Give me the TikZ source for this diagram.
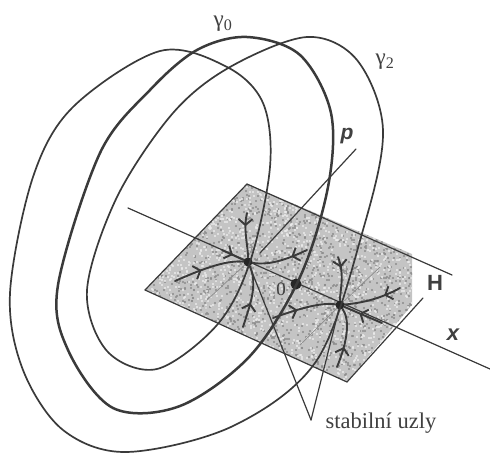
\documentclass[tikz,border=0pt]{standalone}
\usepackage{fontspec}
\setmainfont{Liberation Serif}
\setsansfont{Liberation Sans}
\usepackage{xcolor}
\usetikzlibrary{arrows.meta,decorations.markings}
\definecolor{inkgray}{RGB}{58,58,58}
\definecolor{planegray}{RGB}{196,196,196}
\begin{document}
\begin{tikzpicture}[
  x=1pt,y=-1pt,
  line cap=round,
  curvethin/.style={draw=inkgray,line width=1.7pt},
  curvethick/.style={draw=inkgray,line width=2.5pt},
  axisline/.style={draw=inkgray,line width=1.2pt},
  faint/.style={draw=black!45,line width=0.7pt},
  traj/.style={draw=inkgray,line width=1.9pt},
  barb/.style={postaction={decorate},decoration={markings,mark=at position #1 with {\arrow[line width=1.9pt,inkgray]{Straight Barb[length=6pt,width=14pt]}}}},
  uzel/.style={circle,fill=black!85,inner sep=0pt,minimum size=9pt},
  lbl/.style={inner sep=0pt,text=black!75}
]
\useasboundingbox (0,0) rectangle (490,453);
% shaded plane
\path[fill=planegray] (247,184) -- (412,254) -- (412,305) -- (347,382) -- (145,290) -- cycle;
\begin{scope}
  \clip (247,184) -- (412,254) -- (412,305) -- (347,382) -- (145,290) -- cycle;
  \pgfmathsetseed{17}
  \foreach \i in {1,...,2000}{
    \pgfmathsetmacro{\px}{random(145,412)}
    \pgfmathsetmacro{\py}{random(184,382)}
    \fill[black!45] (\px,\py) circle (1.1);
  }
  \foreach \i in {1,...,1900}{
    \pgfmathsetmacro{\px}{random(145,412)}
    \pgfmathsetmacro{\py}{random(184,382)}
    \fill[black!8] (\px,\py) circle (1.1);
  }
\end{scope}
\coordinate (planetop) at (247,184);
\coordinate (planeleft) at (145,290);
\coordinate (planebot) at (347,382);
\coordinate (hend) at (452,275);
\coordinate (hlow) at (423,298);
\draw[axisline] (planeleft) -- (planetop) -- (hend);
\draw[axisline] (planeleft) -- (planebot) -- (hlow);
% axes
\coordinate (xa) at (128,208);
\coordinate (xb) at (490,369);
\coordinate (pa) at (356,149);
\coordinate (pb) at (260,253);
\draw[axisline] (xa) -- (xb);
\draw[axisline] (pa) -- (pb);
% nodes
\node[uzel] (uzelA) at (248,262) {};
\node[uzel] (uzelB) at (340,305) {};
\node[uzel,minimum size=11pt] (nula) at (296,284) {};
\node[lbl,font=\fontsize{22.5}{22.5}\selectfont] (stabil) at (381,423) {stabilní uzly};
\coordinate (tip) at (311,420);
\draw[axisline] (uzelA) -- (tip);
\draw[axisline] (uzelB) -- (tip);
% faint radial lines in the plane
\coordinate (f1) at (207,300);
\coordinate (f2) at (300,345);
\coordinate (f3) at (380,267);
\draw[faint] (uzelA) -- (f1);
\draw[faint] (uzelB) -- (f2);
\draw[faint] (uzelB) -- (f3);
% the two closed curves
\draw[curvethin] plot[smooth cycle,tension=0.55] coordinates {
  (160,51) (227,67) (263,103) (270,167) (250,262) (217,325) (157,369) (107,351) (87,290) (117,197) (173,113)
  (230,67) (307,37) (357,60) (383,130) (363,230) (317,360) (233,426) (127,452) (63,430) (23,370) (10,293)
  (33,177) (73,107)};
\draw[curvethick] plot[smooth cycle,tension=0.55] coordinates {
  (247,37) (300,55) (331,113) (328,187) (300,277) (250,356) (180,406) (113,408) (68,350) (58,285) (100,153)
  (150,90) (197,50)};
% trajectories into the stable nodes
\coordinate (a1) at (175,281);
\coordinate (a2) at (222,250);
\coordinate (a3) at (247,213);
\coordinate (a4) at (307,250);
\coordinate (a5) at (243,327);
\draw[traj,barb=0.4] (a1) .. controls (200,270) and (225,260) .. (uzelA);
\draw[traj,barb=0.5] (a2) -- (uzelA);
\draw[traj,barb=0.3] (a3) .. controls (243,230) and (248,245) .. (uzelA);
\draw[traj,barb=0.3] (a4) .. controls (290,258) and (270,266) .. (uzelA);
\draw[traj,barb=0.4] (a5) .. controls (250,305) and (258,285) .. (uzelA);
\coordinate (b1) at (273,318);
\coordinate (b2) at (338,257);
\coordinate (b3) at (400,288);
\coordinate (b4) at (382,323);
\coordinate (b5) at (337,367);
\draw[traj,barb=0.4] (b1) .. controls (295,310) and (320,302) .. (uzelB);
\draw[traj,barb=0.25] (b2) .. controls (345,275) and (340,290) .. (uzelB);
\draw[traj,barb=0.3] (b3) .. controls (378,300) and (360,303) .. (uzelB);
\draw[traj,barb=0.6] (b4) -- (uzelB);
\draw[traj,barb=0.35] (b5) .. controls (348,340) and (350,320) .. (uzelB);
% labels
\node[lbl,font=\fontsize{23}{23}\selectfont] (gamma0) at (223,24) {γ\textsubscript{0}};
\node[lbl,font=\fontsize{23}{23}\selectfont] (gamma2) at (385,62) {γ\textsubscript{2}};
\node[lbl,font=\sffamily\itshape\bfseries\fontsize{21}{21}\selectfont] (pl) at (347,136) {p};
\node[lbl,font=\sffamily\bfseries\fontsize{22}{22}\selectfont] (hl) at (435,283) {H};
\node[lbl,font=\sffamily\bfseries\itshape\fontsize{22}{22}\selectfont] (xl) at (453,335) {x};
\node[lbl,font=\fontsize{19}{19}\selectfont] (nl) at (281,289) {0};
\end{tikzpicture}
\end{document}
